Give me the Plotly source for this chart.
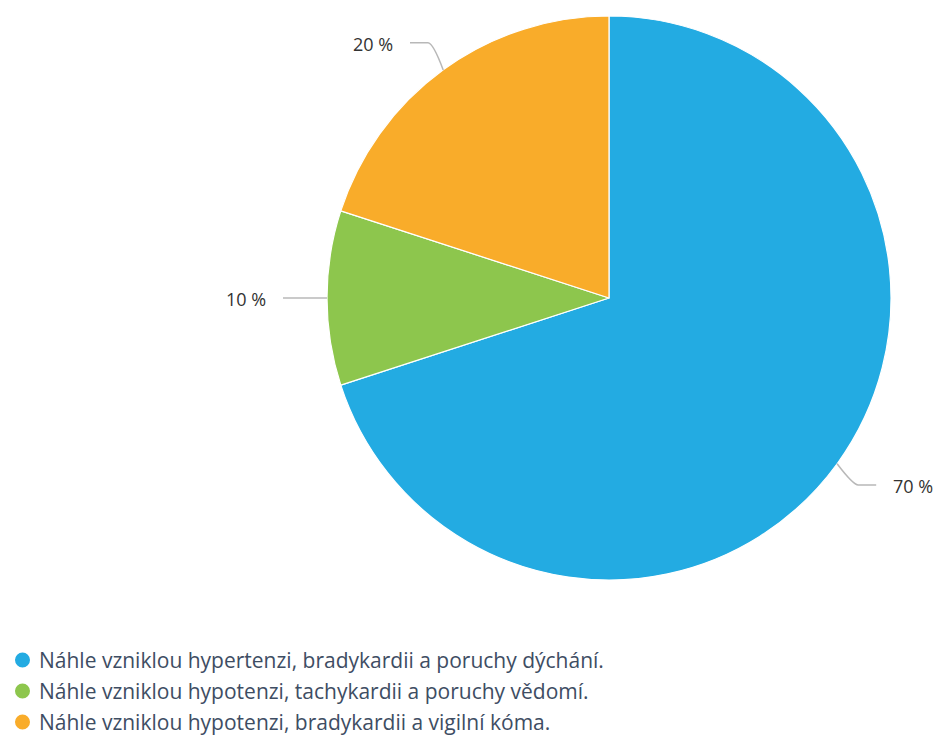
import math
import plotly.graph_objects as go

# Data
categories = [
    "Náhle vzniklou hypertenzi, bradykardii a poruchy dýchání.",
    "Náhle vzniklou hypotenzi, tachykardii a poruchy vědomí.",
    "Náhle vzniklou hypotenzi, bradykardii a vigilní kóma.",
]
values = [70, 10, 20]
colors = ["#23abe2", "#8dc64d", "#f9ac2a"]

W, H = 938, 738
CX, CY, R = 609, 298, 282  # pie centre / radius in pixels

fig = go.Figure()
fig.add_trace(go.Pie(
    values=values,
    labels=categories,
    marker=dict(colors=colors, line=dict(color="#ffffff", width=1.2)),
    sort=False,
    direction="clockwise",
    rotation=0,
    textinfo="none",
    hoverinfo="label+percent",
    showlegend=False,
    domain=dict(x=[(CX - R) / W, (CX + R) / W], y=[1 - (CY + R) / H, 1 - (CY - R) / H]),
))

# Outside labels with connector lines computed from slice mid-angles
total = sum(values)
shapes, annotations = [], []
cum = 0
for v in values:
    mid = (cum + v / 2) / total * 2 * math.pi
    cum += v
    sx, sy = math.sin(mid), -math.cos(mid)
    ex, ey = CX + R * sx, CY + R * sy
    bx, by = CX + (R + 26) * sx, CY + (R + 26) * sy
    side = 1 if sx >= 0 else -1
    if abs(sy) > 0.05:
        by += 6 * (1 if sy > 0 else -1)
    hx = bx + side * 18
    path = f"M {ex:.1f},{ey:.1f} Q {bx - side * 5:.1f},{by:.1f} {bx:.1f},{by:.1f} L {hx:.1f},{by:.1f}"
    shapes.append(dict(type="path", xref="x", yref="y", path=path,
                       line=dict(color="#b8b8b8", width=1.5)))
    annotations.append(dict(
        x=hx + side * 15, y=by + 1, xref="x", yref="y",
        text=f"{v} %", showarrow=False,
        xanchor="left" if side > 0 else "right", yanchor="middle",
        font=dict(family="Open Sans", size=18, color="#333333"),
    ))

# Legend rows
leg_y = [660, 691, 722]
for cat, col, y in zip(categories, colors, leg_y):
    shapes.append(dict(type="circle", xref="x", yref="y",
                       x0=15, x1=30, y0=y - 7.5, y1=y + 7.5,
                       fillcolor=col, line=dict(width=0)))
    annotations.append(dict(
        x=37, y=y, xref="x", yref="y", text=cat, showarrow=False,
        xanchor="left", yanchor="middle",
        font=dict(family="Open Sans", size=21, color="#3e4d63"),
    ))

fig.update_layout(
    width=W, height=H,
    margin=dict(l=0, r=0, t=0, b=0),
    paper_bgcolor="#ffffff", plot_bgcolor="#ffffff",
    xaxis=dict(range=[0, W], visible=False, fixedrange=True),
    yaxis=dict(range=[H, 0], visible=False, fixedrange=True),
    shapes=shapes, annotations=annotations,
    showlegend=False,
)

fig.write_html("out.html")
